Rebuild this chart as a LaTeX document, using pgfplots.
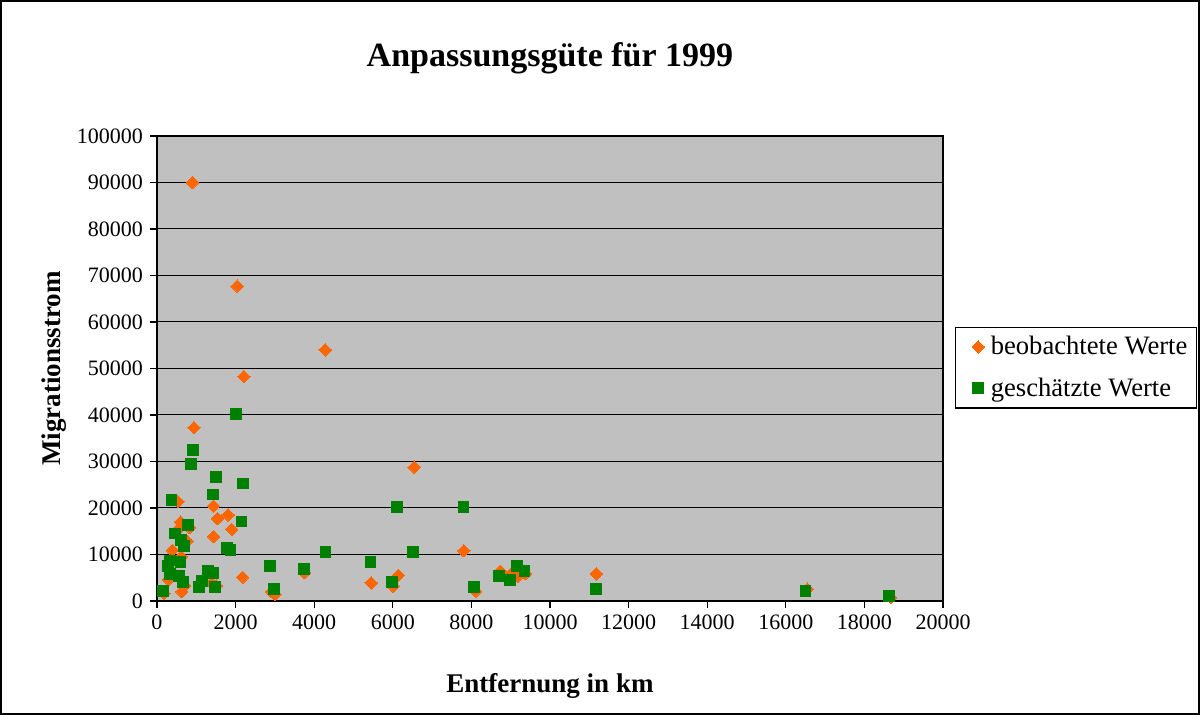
\documentclass[border=0pt]{standalone}
\usepackage{fontspec}
\setmainfont{Liberation Serif}
\usepackage{pgfplots}
\pgfplotsset{compat=1.18}
\definecolor{obs}{HTML}{FF6600}
\definecolor{est}{HTML}{008000}
\definecolor{plotbg}{HTML}{C0C0C0}
\begin{document}
\begin{tikzpicture}
\draw[black, line width=0.8pt] (0.4pt,0.4pt) rectangle (599.6pt,357.1pt);
\begin{axis}[
  at={(78.5pt,57pt)}, anchor=south west,
  scale only axis, width=393pt, height=232.5pt,
  xmin=0, xmax=20000, ymin=0, ymax=100000,
  xtick={0,2000,...,20000}, ytick={0,10000,...,100000},
  /pgf/number format/fixed,
  /pgf/number format/precision=0,
  /pgf/number format/1000 sep={},
  /pgf/number format/assume math mode=true,
  scaled ticks=false,
  tick label style={font=\fontsize{11}{13}\selectfont},
  tick align=outside, major tick length=3.5pt,
  xtick pos=bottom, ytick pos=left,
  ymajorgrids, grid style={black, line width=0.5pt},
  axis background/.style={fill=plotbg},
  axis line style={black, line width=0.6pt},
  tick style={black, line width=0.6pt},
  title={Anpassungsgüte für 1999},
  title style={font=\fontsize{17}{20}\selectfont\bfseries, at={(0.5,1.174)}, anchor=center, yshift=-7.5pt},
  xlabel={Entfernung in km},
  xlabel style={font=\fontsize{13.5}{16}\selectfont\bfseries, at={(0.5,-0.182)}, anchor=center},
  ylabel={Migrationsstrom},
  ylabel style={font=\fontsize{13.5}{16}\selectfont\bfseries, at={(-0.1315,0.5)}, anchor=center},
  legend style={at={(1.0153,0.502)}, anchor=west, draw=black, line width=0.6pt,
    font=\fontsize{13.3}{15}\selectfont, row sep=6pt, inner xsep=2.5pt, inner ysep=2.5pt},
  legend cell align=left,
  legend image code/.code={\path (0pt,0pt) (12.5pt,0pt); \draw[#1] plot coordinates {(8.5pt,0pt)};},
]
\addplot[only marks, mark=square*, mark size=2.2pt, color=obs, mark options={rotate=45, draw=obs, fill=obs, line width=0pt}] coordinates {
(900,90000) (2040,67700) (4280,54000) (2210,48300) (940,37300) (6545,28800)
(530,21400) (1440,20400) (1810,18500) (1540,17700) (600,17000) (830,15800)
(1900,15400) (1440,13850) (560,15600) (760,12900) (390,10900) (620,9500)
(290,4600) (700,3300) (630,2000) (180,1600) (2180,5100) (1390,3800)
(1510,3300) (2920,2000) (3000,1450) (3750,6100) (7810,10800) (5450,3900)
(6140,5500) (6010,3200) (8110,2100) (8730,6400) (9020,5900) (9180,5350)
(9370,5900) (11180,5850) (16545,2550) (18670,750) (310,8200) (370,6500) (1150,4000)
};
\addlegendentry{beobachtete Werte}
\addplot[only marks, mark=square*, mark size=2.7pt, color=est, mark options={draw=est, fill=est, line width=0pt}] coordinates {
(2010,40200) (920,32500) (870,29400) (1510,26700) (2190,25250) (1420,22900)
(370,21800) (2150,17100) (780,16300) (460,14500) (610,13150) (690,11800)
(1780,11450) (1870,11050) (4290,10600) (340,8700) (600,8400) (280,7500)
(2870,7500) (3740,6800) (1290,6400) (1420,6050) (340,5800) (560,5350)
(660,4150) (1150,4250) (1060,3000) (1470,3000) (2970,2600) (145,2150)
(6110,20200) (7800,20200) (6520,10600) (5430,8300) (5980,4050) (8070,3000)
(8710,5300) (9160,7500) (8980,4500) (9350,6400) (11170,2550) (16500,2150) (18630,1000)
};
\addlegendentry{geschätzte Werte}
\end{axis}
\end{tikzpicture}
\end{document}
